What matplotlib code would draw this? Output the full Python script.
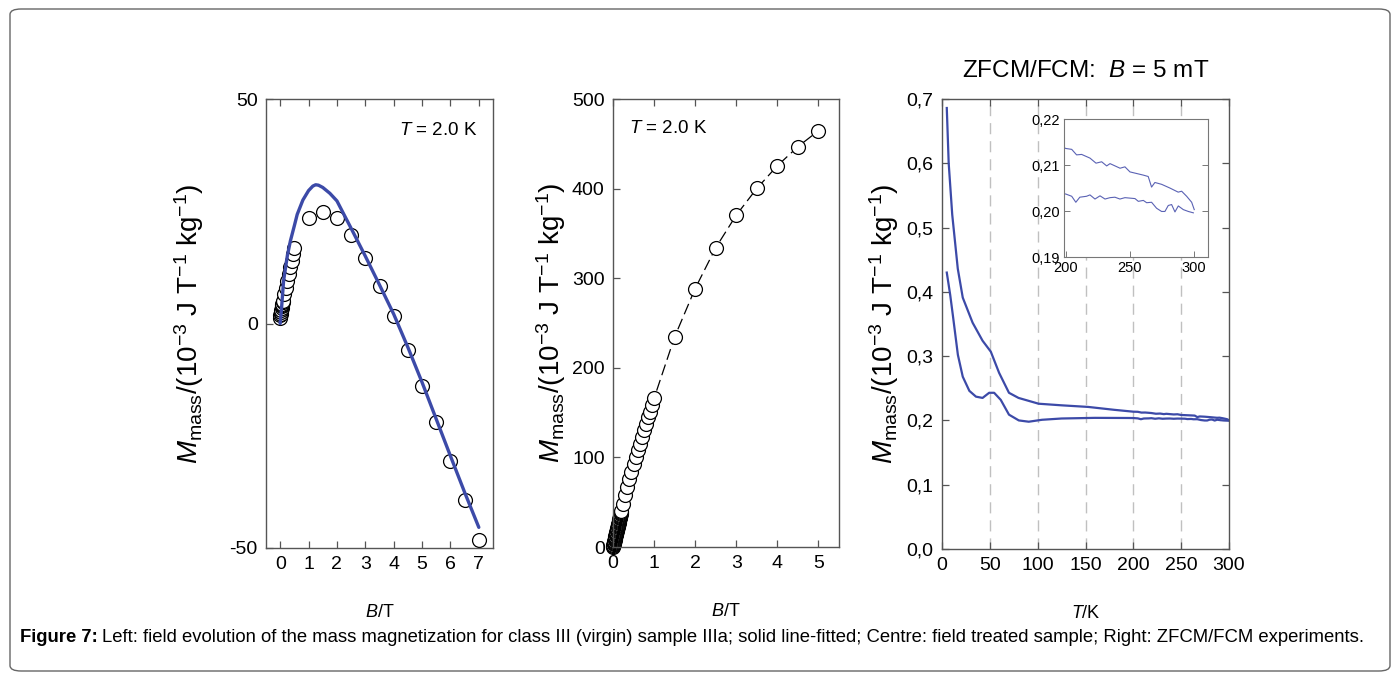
import matplotlib
matplotlib.use("Agg")
import matplotlib.pyplot as plt
from matplotlib.patches import FancyBboxPatch
from matplotlib.ticker import FuncFormatter

plt.rcParams['font.family'] = ['Liberation Sans', 'DejaVu Sans']
plt.rcParams['mathtext.fontset'] = 'custom'
plt.rcParams['mathtext.rm'] = 'Liberation Sans'
plt.rcParams['mathtext.it'] = 'Liberation Sans:italic'
plt.rcParams['mathtext.bf'] = 'Liberation Sans:bold'
plt.rcParams['axes.unicode_minus'] = False

# ---- Left: virgin sample IIIa, M(B) at 2 K ----
left_B = [0.0, 0.01, 0.02, 0.03, 0.04, 0.05, 0.06, 0.07, 0.08, 0.09,
          0.10, 0.15, 0.20, 0.25, 0.30, 0.35, 0.40, 0.45, 0.50,
          1.0, 1.5, 2.0, 2.5, 3.0, 3.5, 4.0, 4.5, 5.0, 5.5, 6.0, 6.5, 7.0]
left_M = [1.2, 1.8, 2.2, 2.6, 3.0, 3.4, 3.8, 4.1, 4.4, 4.7,
          5.0, 6.5, 8.0, 9.5, 11.0, 12.5, 14.0, 15.4, 16.9,
          23.6, 24.9, 23.4, 19.7, 14.6, 8.4, 1.6, -5.9, -13.9, -22.0, -30.6, -39.3, -48.2]

fit_B = [0.0, 0.05, 0.12, 0.25, 0.36, 0.5, 0.6, 0.8, 1.0, 1.15, 1.25, 1.35, 1.5,
         1.75, 2.0, 2.5, 3.0, 3.5, 4.0, 4.5, 5.0, 5.5, 6.0, 6.5, 7.0]
fit_M = [0.0, 3.6, 9.5, 15.0, 18.4, 21.8, 24.3, 27.5, 29.6, 30.6, 30.9, 30.8, 30.3,
         29.0, 27.3, 21.2, 15.0, 8.6, 2.1, -5.3, -13.1, -21.3, -29.5, -37.6, -45.4]

# ---- Centre: field treated sample, M(B) at 2 K ----
mid_B = [0.0, 0.005, 0.01, 0.015, 0.02, 0.025, 0.03, 0.035, 0.04, 0.045,
         0.05, 0.055, 0.06, 0.065, 0.07, 0.075, 0.08, 0.085, 0.09, 0.095,
         0.10, 0.105, 0.11, 0.115, 0.12, 0.125, 0.13, 0.135, 0.14, 0.145,
         0.15, 0.155, 0.16, 0.165, 0.17, 0.175, 0.18, 0.185, 0.19, 0.195, 0.20,
         0.25, 0.30, 0.35, 0.40, 0.45, 0.50, 0.55, 0.60, 0.65, 0.70, 0.75,
         0.80, 0.85, 0.90, 0.95, 1.0, 1.5, 2.0, 2.5, 3.0, 3.5, 4.0, 4.5, 5.0]
mid_M = [0.0, 1.0, 2.0, 3.0, 4.0, 5.0, 6.0, 7.0, 8.0, 9.0,
         10.0, 11.0, 12.0, 13.0, 14.0, 15.0, 16.0, 17.0, 18.0, 19.0,
         20.0, 21.0, 22.0, 23.0, 24.0, 25.0, 26.0, 27.0, 28.0, 29.0,
         30.0, 31.0, 32.0, 33.0, 34.0, 35.0, 36.0, 37.0, 38.0, 39.0, 40.0,
         48.4, 57.7, 67.0, 76.3, 83.8, 93.0, 100.5, 108.0, 115.4, 122.9, 130.3,
         137.7, 145.2, 150.8, 158.0, 166.0, 234.5, 288.5, 334.0, 370.4, 400.2, 425.5, 446.8, 464.6]

# ---- Right: ZFCM / FCM at B = 5 mT ----
fc_T = [5, 7, 10.7, 16.5, 21.7, 32, 42.4, 51, 59.7, 70, 80, 101, 125, 152.8, 180,
        200, 204.7, 208.5, 212.4, 218.9, 223.6, 228, 231.9, 234.5, 242.3, 246.1, 250,
        260.4, 264.2, 266.8, 269.4, 274.6, 281, 287.5, 290.2, 294.1, 298, 300]
fc_M = [0.686, 0.60, 0.520, 0.436, 0.391, 0.352, 0.324, 0.307, 0.274, 0.243, 0.235,
        0.226, 0.2235, 0.221, 0.2165,
        0.2136, 0.2134, 0.2122, 0.2123, 0.2115, 0.2104, 0.2107, 0.2098, 0.2103, 0.2093,
        0.2096, 0.2085, 0.2078, 0.2075, 0.2052, 0.2062, 0.2058, 0.2050, 0.2041, 0.2043,
        0.2032, 0.2019, 0.2003]

zfc_T = [5, 8.6, 11.4, 16.6, 21.7, 28.6, 35.5, 42.4, 49.3, 54.5, 61.4, 70, 80.3, 90.7,
         104.5, 125, 159.7, 194,
         200, 204.7, 207.9, 211, 216.2, 218.9, 222.8, 226.7, 230.6, 234.5, 238.3, 242.2,
         246.1, 253.9, 256.5, 260.4, 263, 266.8, 270.7, 274.6, 277.2, 279.8, 282.4, 285,
         287.6, 291.5, 295.4, 299.3]
zfc_M = [0.430, 0.395, 0.363, 0.302, 0.268, 0.246, 0.237, 0.235, 0.243, 0.243, 0.232,
         0.209, 0.200, 0.198, 0.201, 0.203, 0.204, 0.2038,
         0.2037, 0.2032, 0.2019, 0.2030, 0.2032, 0.2035, 0.2026, 0.2033, 0.2026, 0.2029,
         0.2030, 0.2026, 0.2029, 0.2027, 0.2021, 0.2023, 0.2018, 0.2019, 0.2006, 0.1999,
         0.1999, 0.2012, 0.2014, 0.1998, 0.2011, 0.2003, 0.1999, 0.1996]

BLUE = '#3c4aa8'
SPINE = '#555555'
W, H = 1398, 680

fig = plt.figure(figsize=(W / 100, H / 100), dpi=100)

# rounded frame around the figure
frame = FancyBboxPatch((10 / W, 9 / H), 1380 / W, 662 / H,
                       boxstyle="round,pad=0,rounding_size=0.008",
                       transform=fig.transFigure, fill=False,
                       edgecolor='#666666', linewidth=1.0)
fig.patches.append(frame)


def px_axes(x0, y0, x1, y1):
    return fig.add_axes([x0 / W, 1 - y1 / H, (x1 - x0) / W, (y1 - y0) / H])


def style(ax, fs=14):
    for s in ax.spines.values():
        s.set_color(SPINE)
        s.set_linewidth(1.0)
    ax.tick_params(direction='in', length=5, width=0.9, color=SPINE,
                   labelsize=fs, top=True, pad=6)


ylab = r'$M_{\mathrm{mass}}$/(10$^{-3}$ J T$^{-1}$ kg$^{-1}$)'
XLAB_PAD = 22

# Left panel
ax1 = px_axes(266, 99, 493, 548)
style(ax1)
ax1.plot(left_B, left_M, 'o', ms=10, mfc='white', mec='black', mew=0.9, zorder=2)
ax1.plot(fit_B, fit_M, '-', color=BLUE, lw=2.4, zorder=3, solid_capstyle='round')
ax1.set_xlim(-0.5, 7.5)
ax1.set_ylim(-50, 50)
ax1.set_xticks(range(0, 8))
ax1.set_yticks([-50, 0, 50])
ax1.set_xlabel(r'$B$/T', fontsize=13, labelpad=XLAB_PAD)
ax1.set_ylabel(ylab, fontsize=20, labelpad=17)
ax1.text(0.93, 0.93, r'$T$ = 2.0 K', transform=ax1.transAxes, ha='right', va='center',
         fontsize=13.5)

# Centre panel
ax2 = px_axes(613, 99, 839, 547)
style(ax2)
ax2.plot(mid_B, mid_M, '-', color='black', lw=0.9, dashes=(9, 4), zorder=1)
ax2.plot(mid_B, mid_M, 'o', ms=10, mfc='white', mec='black', mew=0.9,
         zorder=2, clip_on=False)
ax2.set_xlim(0, 5.5)
ax2.set_ylim(0, 500)
ax2.set_xticks(range(0, 6))
ax2.set_yticks(range(0, 501, 100))
ax2.set_xlabel(r'$B$/T', fontsize=13, labelpad=XLAB_PAD)
ax2.set_ylabel(ylab, fontsize=20, labelpad=3)
ax2.text(0.07, 0.935, r'$T$ = 2.0 K', transform=ax2.transAxes, ha='left', va='center',
         fontsize=13.5)

# Right panel
comma = FuncFormatter(lambda v, p: f'{v:.1f}'.replace('.', ','))
comma2 = FuncFormatter(lambda v, p: f'{v:.2f}'.replace('.', ','))

ax3 = px_axes(942, 99, 1229, 549)
style(ax3)
ax3.tick_params(right=True)
for t in range(50, 300, 50):
    ax3.axvline(t, color='#c0c0c0', lw=1.0, dashes=(8, 5), zorder=0)
ax3.plot(fc_T, fc_M, '-', color=BLUE, lw=1.6)
ax3.plot(zfc_T, zfc_M, '-', color=BLUE, lw=1.6)
ax3.set_xlim(0, 300)
ax3.set_ylim(0, 0.7)
ax3.set_xticks(range(0, 301, 50))
ax3.set_yticks([i / 10 for i in range(8)])
ax3.yaxis.set_major_formatter(comma)
ax3.set_xlabel(r'$T$/K', fontsize=13, labelpad=XLAB_PAD)
ax3.set_ylabel(ylab, fontsize=20, labelpad=4)
ax3.set_title(r'ZFCM/FCM:  $B$ = 5 mT', fontsize=17.5, pad=16)

# Inset: 200-300 K detail
ax4 = px_axes(1064, 119, 1208, 257)
for s in ax4.spines.values():
    s.set_color('#777777')
    s.set_linewidth(0.8)
ax4.tick_params(direction='in', length=4, width=0.7, color='#777777',
                labelsize=10.5, right=True, pad=3)
ax4.plot(fc_T, fc_M, '-', color='#5a62b4', lw=0.8)
ax4.plot(zfc_T, zfc_M, '-', color='#5a62b4', lw=0.8)
ax4.set_xlim(198.7, 310.7)
ax4.set_ylim(0.19, 0.22)
ax4.set_xticks([200, 250, 300])
ax4.set_yticks([0.19, 0.20, 0.21, 0.22])
ax4.yaxis.set_major_formatter(comma2)

# caption: bold lead-in followed by the plain description
CAP_FS = 13.3
cap_y = 1 - 638 / H
lead = fig.text(20 / W, cap_y, 'Figure 7:', fontsize=CAP_FS, fontweight='bold',
                ha='left', va='center')
fig.canvas.draw()
bb = lead.get_window_extent()
fig.text((bb.x1 + 4) / W, cap_y,
         'Left: field evolution of the mass magnetization for class III (virgin) sample '
         'IIIa; solid line-fitted; Centre: field treated sample; Right: ZFCM/FCM experiments.',
         fontsize=CAP_FS, ha='left', va='center')

fig.savefig('out.png', dpi=100)
